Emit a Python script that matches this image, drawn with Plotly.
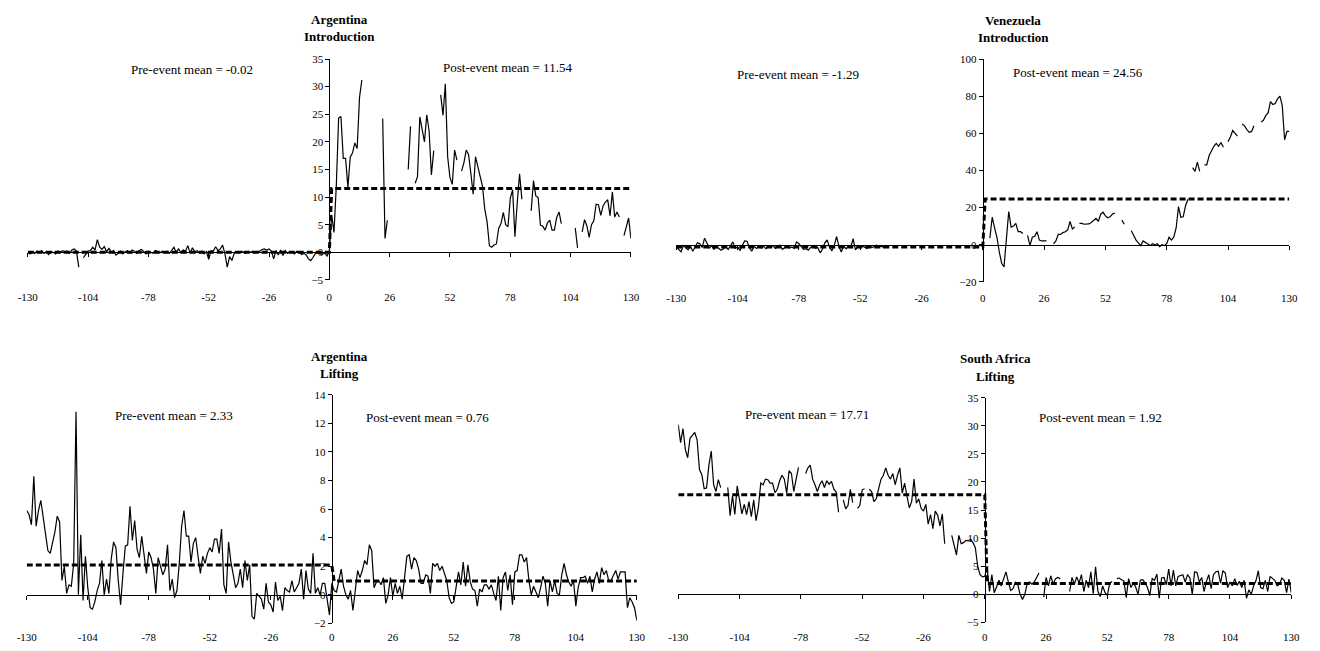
import plotly.graph_objects as go

# ---------------- data ----------------
weeks = list(range(-130, 131))
x_ticks = [-130, -104, -78, -52, -26, 0, 26, 52, 78, 104, 130]

# Argentina - Introduction (weeks -130..-1 and 0..130)
arg_intro_pre = [
    0.0, -0.3, 0.1, -0.2, 0.2, -0.1, 0.3, -0.2, 0.1, -0.4,
    0.1, 0.0, -0.3, 0.2, -0.1, 0.3, 0.1, 0.2, -0.2, 0.4,
    0.6, 0.2, -2.7, None, -1.0, -0.5, 0.2, 0.3, 0.9, 0.4,
    2.3, 0.9, 0.5, 1.0, 0.1, 0.7, 0.0, 0.3, -0.5, -0.2,
    0.2, -0.3, 0.1, 0.3, -0.1, 0.4, 0.2, -0.2, 0.3, 0.5,
    0.1, -0.3, 0.2, 0.0, -0.2, 0.3, 0.1, -0.1, 0.2, 0.0,
    0.2, -0.2, 0.3, 0.9, 0.0, 0.6, -0.1, 0.4, 0.2, 1.2,
    -0.2, 0.8, 0.1, 0.3, -0.1, 0.2, -0.3, 0.1, -1.3, 0.3,
    0.2, 1.0, 0.3, 0.6, 1.3, -0.3, -2.7, -0.8, -1.5, -0.2,
    0.1, -0.1, 0.2, 0.0, -0.2, 0.1, 0.0, 0.2, -0.1, 0.1,
    0.2, 0.5, 0.6, 0.4, 0.6, 0.2, -1.2, 0.3, -0.5, 0.4,
    -0.6, 0.3, -0.2, 0.1, 0.0, -0.3, 0.2, 0.1, -0.4, -0.2,
    -0.5, -1.2, -1.5, -0.9, -0.2, 0.1, -0.3, -0.4, -0.1, -0.7,
]
arg_intro_post = [
    0.2, 6.8, 3.6, 12.0, 24.3, 24.6, 17.0, 17.0, 11.8, 17.2, 18.0, 19.8, 18.8, 28.0, 31.2,
    None, None, None, None, None, None, None, None,
    24.2, 2.5, 5.8,
    None, None, None, None, None, None, None, None,
    15.0, 22.8,
    None,
    12.5, 13.7, 24.5, 22.0, 20.0, 24.9, 22.0, 14.0, 18.4,
    None, None,
    28.5, 24.8, 30.5, 17.3, 13.5, 12.3, 18.5, 16.7,
    None,
    14.7, 16.2, 18.5, 17.7, 14.3, 10.5, 17.3, 15.5, 13.4, 12.0, 7.8, 5.5, 1.2, 0.9,
    1.3, 1.5, 4.3, 5.2, 7.2, 5.0, 4.6, 9.8, 11.3, 2.8, 9.0, 14.2, 9.6,
    None, None, None,
    7.5, 13.0, 10.2, 9.9, 4.9, 4.7, 4.0, 5.3, 5.8, 4.0, 4.0, 6.3, 7.3, 5.2,
    None, None, None, None, None,
    4.4, 0.8,
    None,
    3.7, 5.9, 4.8, 2.7, 5.0, 5.7, 8.7, 8.6, 6.7, 8.4, 9.1, 9.5, 6.6, 10.9, 6.4, 7.3, 6.4,
    None,
    3.0, 4.6, 6.2, 2.5,
]

# Venezuela - Introduction
ven_intro_pre = [
    -1.0, -2.5, -3.9, -0.5, -1.8, -2.8, -0.8, -3.5, -1.2, 1.0,
    0.5, -1.5, 3.5, 1.2, -1.8, -0.6, -2.5, -1.0, -1.8, -3.0,
    -2.2, -1.0, -2.6, -0.8, 1.5, -2.0, -1.2, -3.0, -0.5, 2.0,
    1.8, -1.5, -3.5, -0.8, -2.0, -1.0, -1.8, -0.6, -2.2, -1.2,
    -1.5, -0.5, -2.0, -1.0, -0.2, -2.5, -1.5, -0.8, -1.8, -1.2,
    -2.0, 1.5, 0.5, -1.0, -2.5, -2.2, -3.0, -1.5, -0.5, -2.0,
    -1.5, -4.4, -2.5, 1.0, 2.6, -1.5, -3.2, -0.5, 4.4, -1.0,
    -3.9, -0.5, -2.2, -1.0, -1.5, 3.2, -2.8, -1.0, -1.8, -0.8,
    -1.2, -2.0, -0.5, -1.5, -1.0, -0.3, -1.2, -0.8, -1.5, -1.0,
    None, None, None, None, None, None, None, None, None, None,
    None, None, None, None, None, None, None, None, None, None,
    None, None, None, None, None, None, None, None, None, None,
    None, None, None, None, None, None, None, None, None, None,
]
ven_intro_post = [
    None, None, None,
    3.5, 14.8, 9.0, 4.0, -4.0, -10.0, -12.0, 3.0, 17.8, 9.5, 10.0, 11.5, 7.0, 7.0, 6.0,
    None,
    5.0, -0.5, 4.0, 4.5, 7.0, 2.5, 2.0, 2.0, 2.0,
    None, None,
    0.5, 2.0, 5.5, 5.5, 6.5, 7.0, 8.0, 12.5, 8.5, 9.5,
    None,
    11.5, 11.5, 11.0, 11.0, 11.2, 12.0, 13.0, 14.2, 12.5, 16.5, 17.5, 15.5, 14.5, 15.0, 16.5, 17.0,
    None, None,
    13.2, 11.0,
    None, None,
    7.5, 4.5, 2.5, 1.0, -0.5, 2.0, 1.0, 0.5, -0.5, 0.5, 0.0, 0.5, -1.0, 0.0, -0.5, 0.5,
    4.0, 2.5, 4.0, 9.0, 20.5, 14.8, 15.0, 21.0, 24.5,
    None,
    41.5, 39.5, 44.5, 39.5,
    None,
    43.0, 43.0, 48.0, 51.0, 53.0, 54.5, 53.0, 55.0, 52.5,
    None,
    55.5, 58.0, 61.5, 60.0, 58.5,
    None,
    65.0, 64.0, 62.0, 60.5, 61.0, 64.0,
    None, None,
    66.0, 67.0, 69.5, 71.0, 77.0, 75.5, 76.0, 78.5, 80.0, 75.0, 56.5, 61.0, 61.0,
]

# Argentina - Lifting
arg_lift_pre = [
    5.9, 5.6, 4.9, 8.3, 4.8, 5.9, 6.6, 5.3, 4.3, 3.1,
    2.9, 3.6, 4.4, 5.5, 5.1, 1.0, 2.0, 0.1, 0.7, 0.6,
    2.2, 12.8, 0.0, 4.2, -0.4, 2.7, 0.5, -0.9, -1.0, -0.5,
    0.3, 0.8, 2.4, 0.0, 1.1, 0.1, 2.5, 3.7, 3.3, 1.0,
    -0.7, 1.5, 3.4, 3.5, 6.2, 3.8, 5.2, 3.2, 2.6, 4.1,
    2.8, 1.5, 3.0, 2.6, 1.8, 0.1, 2.6, 2.0, 1.4, 1.8,
    3.5, 0.3, 1.1, -0.2, 0.3, 2.2, 4.8, 5.9, 4.1, 4.1,
    2.3, 3.6, 4.0, 2.7, 1.5, 2.7, 2.2, 2.9, 3.3, 3.0,
    3.9, 3.9, 2.9, 4.6, 0.7, 0.1, 3.7, 2.3, 1.3, 0.5,
    0.8, 1.8, 0.5, 2.4, 1.0, 2.1, -1.5, -1.7, 0.1, -0.1,
    -0.3, -1.0, 0.8, -0.5, -0.7, -1.2, 0.9, -0.4, -0.1, -1.1,
    0.5, 0.3, 0.2, 1.0, 0.2, 0.5, 0.8, 1.8, -0.3, 1.7,
    0.4, 0.1, 2.9, 0.1, 0.5, 0.0, 0.8, 0.8, -0.3, -1.4,
]
arg_lift_post = [
    0.8, 0.3, 0.2, 0.9, 1.8, 0.6, 0.0, -0.3, 0.3, -1.1,
    0.2, 1.7, 1.2, 1.7, 2.4, 2.1, 3.5, 3.1, 0.5, 0.9,
    1.0, 0.7, 1.2, -0.6, 0.0, 1.2, -0.1, 0.8, 0.1, 0.6,
    -0.3, 1.3, 2.7, 2.8, 1.8, 2.6, 2.4, 1.8, 0.8, 0.8,
    1.4, 1.3, 0.1, 2.2, 2.0, 2.2, 1.7, 2.0, 1.4, 1.0,
    -0.2, -0.6, -0.5, 0.5, 1.6, 0.7, 2.3, 0.6, 2.1, 0.9,
    0.4, 0.3, -0.8, 0.4, 0.2, 0.7, 0.7, 0.4, 0.7, 0.1,
    -0.4, 1.3, -1.1, 1.2, 1.6, 0.3, 1.4, -0.7, 1.6, 1.7,
    2.8, 2.8, 2.3, 2.6, 1.0, 0.0, 0.6, 0.2, -0.2, 0.5,
    1.3, 0.8, -0.8, 1.0, 0.2, 1.0, 0.1, 0.0, 1.4, 2.2,
    1.4, 0.9, 0.6, 1.0, -0.8, 0.5, 1.2, 1.2, 1.3, 0.8,
    1.3, 0.2, 1.1, 1.6, 0.8, 1.9, 1.4, 1.7, 1.0, 1.0,
    1.4, 1.7, 1.1, 1.6, 1.6, 1.6, -0.9, -0.2, -0.5, -0.9,
    -1.8,
]

# South Africa - Lifting
saf_lift_pre = [
    30.2, 27.0, 29.5, 25.8, 24.3, 27.8, 28.3, 28.8, 27.5, 22.2,
    21.3, 18.8, 18.9, 23.0, 25.5, 19.5, 18.3, 20.4, 19.0,
    None, None,
    19.0, 14.0, 17.5, 14.2, 19.3, 17.0, 14.3, 16.0, 14.2, 16.5,
    13.8, 16.8, 13.1, 15.5, 19.8, 19.5, 20.5, 20.4, 19.8, 19.8,
    18.1, 18.7, 20.2, 21.2, 20.5, 18.0, 22.0, 21.5, 18.3, 20.5, 22.6,
    None, None,
    21.5, 22.5, 23.0, 20.5, 19.5, 18.3, 19.5, 20.2, 19.0, 20.2,
    19.6, 20.1, 18.7, 18.2, 14.6,
    None,
    16.8, 15.2, 15.8, 18.7, 16.3,
    None,
    15.3, 15.8, 18.6, 18.8,
    None,
    18.7, 18.3, 16.5, 17.0, 18.8, 20.5, 21.2, 22.5, 21.2, 20.5,
    21.5, 19.5, 21.2, 22.5, 18.0, 19.8, 17.5, 15.4, 16.5, 20.5,
    16.2, 17.0, 15.3, 14.8, 16.0, 12.5, 14.2, 11.7, 14.8, 14.1,
    12.2, 14.3, 9.0,
    None, None,
    10.5, 8.5, 7.0, 10.5, 9.0, 9.2, 9.6, 9.5, 9.8, 9.2,
    8.3, 5.0, 3.5, 3.1,
]
saf_lift_post = [
    3.2, 4.8, 0.5, 3.5, 0.3, 1.3, 2.5, 1.5, 3.0, 4.0,
    2.2, 0.7, 1.0, 2.2, 1.7, 0.0, -0.9, 0.0, 2.0, 2.2,
    1.8, 2.2, 3.0, 3.8,
    None,
    -0.5, 3.0, 1.5, 3.3, 1.8, 2.8, 3.0, 2.8,
    None, None, None,
    0.5, 3.0, 1.8, 3.1, 2.0, 3.5, 0.5, 2.5, 1.2, 4.0,
    0.1, 4.9, 0.5, -0.4, 1.5, 0.3, -0.2, 2.0, 2.3,
    None,
    2.8, 2.9, 2.6, 2.4, -0.6, 2.8, 1.2, 2.0, 1.3, 0.0,
    2.5, 2.6, 2.0, 1.2, -0.2, 2.8, 2.5, 3.6, -0.7, 2.9,
    3.0, 1.7, 4.5, 1.5, 4.3, 1.5, 3.2, 3.4, 3.5, 2.2,
    3.5, 2.9, 0.0, 4.0, 3.9, 2.2, 3.0, 0.5, 2.3, 3.5,
    1.0, 3.5, 4.0, 4.1, 2.0, 4.2, 3.8, 1.2, 2.2, 1.5,
    2.8, 1.6, 2.3, 1.2, 2.5, -0.7, 0.8, 0.0, 1.5, 2.4,
    4.2, 1.2, 1.0, 2.5, 0.5, 3.2, 2.8, 2.5, 1.5, 1.8,
    2.9, 2.5, 0.3, 2.7, 0.3,
]

titles_country = ["Argentina", "Venezuela", "Argentina", "South Africa"]
titles_event = ["Introduction", "Introduction", "Lifting", "Lifting"]
pre_mean_labels = ["-0.02", "-1.29", "2.33", "17.71"]
post_mean_labels = ["11.54", "24.56", "0.76", "1.92"]
pre_mean_line = [-0.02, -1.29, 2.08, 17.71]
post_mean_line = [11.54, 24.56, 0.97, 1.92]
y_ranges = [[-5, 35], [-20, 100], [-2, 14], [-5, 35]]
y_dticks = [5, 20, 2, 5]

series_pre = [arg_intro_pre, ven_intro_pre, arg_lift_pre, saf_lift_pre]
series_post = [arg_intro_post, ven_intro_post, arg_lift_post, saf_lift_post]

for a, b in zip(series_pre, series_post):
    assert len(a) == 130, len(a)
    assert len(b) == 131, len(b)

# ---------------- layout geometry (pixels) ----------------
W, H = 1320, 651
FONT = "Liberation Serif"

def fx(px):
    return px / W

def fy(py):
    return 1 - py / H

geom = [
    dict(xpx=(18, 630), ypx=(54, 279), lab=288, t1=14, t2=31, tx=334, pre=(185, 65), post=(505, 63)),
    dict(xpx=(676, 1298), ypx=(54, 281), lab=289, t1=15, t2=32, tx=1018, pre=(800, 70), post=(1084, 68)),
    dict(xpx=(17, 636), ypx=(396, 629), lab=635, t1=357, t2=374, tx=334, pre=(166, 417), post=(424, 419)),
    dict(xpx=(678, 1300), ypx=(399, 628), lab=635, t1=359, t2=377, tx=1000, pre=(809, 416), post=(1106, 419)),
]

fig = go.Figure()
layout = dict(
    width=W, height=H,
    margin=dict(l=0, r=0, t=0, b=0),
    paper_bgcolor="white", plot_bgcolor="rgba(0,0,0,0)",
    showlegend=False,
    font=dict(family=FONT, color="black", size=11),
    annotations=[],
)

for i in range(4):
    g = geom[i]
    ymin, ymax = y_ranges[i]
    xdom = [fx(g["xpx"][0]), fx(g["xpx"][1])]
    ydom = [fy(g["ypx"][1]), fy(g["ypx"][0])]
    zero_py = g["ypx"][0] + (ymax - 0) / (ymax - ymin) * (g["ypx"][1] - g["ypx"][0])

    xa = "x" if i == 0 else f"x{i + 1}"
    xb = f"x{i + 5}"
    ya = "y" if i == 0 else f"y{i + 1}"
    xa_key = "xaxis" if i == 0 else f"xaxis{i + 1}"
    xb_key = f"xaxis{i + 5}"
    ya_key = "yaxis" if i == 0 else f"yaxis{i + 1}"

    # axis line at y = 0 with tick marks
    layout[xa_key] = dict(
        domain=xdom, range=[-130, 130], anchor="free", position=fy(zero_py),
        showline=True, linecolor="black", linewidth=1,
        ticks="outside", ticklen=4, tickcolor="black", tickwidth=1,
        tickvals=x_ticks, showticklabels=False,
        showgrid=False, zeroline=False, fixedrange=True,
    )
    # tick labels along the bottom
    layout[xb_key] = dict(
        domain=xdom, range=[-130, 130], anchor="free", position=fy(g["lab"]),
        overlaying=xa, showline=False, ticks="",
        tickvals=x_ticks, ticktext=[str(v) for v in x_ticks],
        tickfont=dict(family=FONT, size=11, color="black"),
        showgrid=False, zeroline=False, fixedrange=True,
    )
    layout[ya_key] = dict(
        domain=ydom, range=[ymin, ymax], anchor="free", position=(xdom[0] + xdom[1]) / 2,
        showline=True, linecolor="black", linewidth=1,
        ticks="outside", ticklen=4, tickcolor="black", tickwidth=1,
        dtick=y_dticks[i], tick0=0,
        tickfont=dict(family=FONT, size=11, color="black"),
        showgrid=False, zeroline=False, fixedrange=True,
    )

    values = series_pre[i] + series_post[i]
    fig.add_trace(go.Scatter(
        x=weeks, y=values, mode="lines", xaxis=xa, yaxis=ya,
        line=dict(color="black", width=1.2), connectgaps=False, hoverinfo="skip",
    ))
    mean_vals = [pre_mean_line[i] if w <= 0 else post_mean_line[i] for w in weeks]
    fig.add_trace(go.Scatter(
        x=weeks, y=mean_vals, mode="lines", xaxis=xb, yaxis=ya,
        line=dict(color="black", width=3, dash="6px,3px"), hoverinfo="skip",
    ))

    ann = layout["annotations"]
    common = dict(xref="paper", yref="paper", showarrow=False, xanchor="center", yanchor="middle")
    ann.append(dict(text=f"<b>{titles_country[i]}</b>", x=fx(g["tx"]), y=fy(g["t1"]),
                    font=dict(family=FONT, size=13, color="black"), **common))
    ann.append(dict(text=f"<b>{titles_event[i]}</b>", x=fx(g["tx"]), y=fy(g["t2"]),
                    font=dict(family=FONT, size=13, color="black"), **common))
    ann.append(dict(text=f"Pre-event mean = {pre_mean_labels[i]}", x=fx(g["pre"][0]), y=fy(g["pre"][1]),
                    font=dict(family=FONT, size=13, color="black"), **common))
    ann.append(dict(text=f"Post-event mean = {post_mean_labels[i]}", x=fx(g["post"][0]), y=fy(g["post"][1]),
                    font=dict(family=FONT, size=13, color="black"), **common))

fig.update_layout(**layout)
fig.write_html(
    "out.html",
    config={"displayModeBar": False},
    post_script="document.body.style.margin='0';document.body.style.overflow='hidden';",
)
